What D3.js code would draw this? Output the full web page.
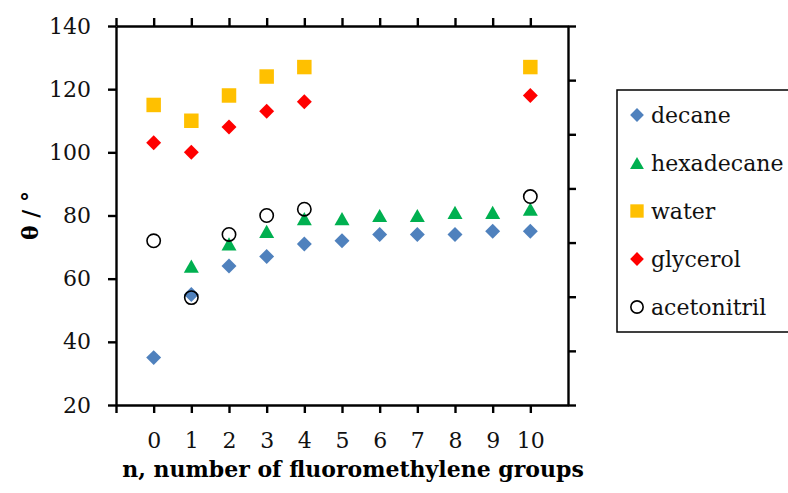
<!DOCTYPE html>
<html lang="en">
<head>
<meta charset="UTF-8">
<title>Contact angle vs n</title>
<script src="https://d3js.org/d3.v7.min.js"></script>
<style>
  body { margin: 0; background: #fff; }
  svg { display: block; }
</style>
</head>
<body>
<script>
// data
var nValues = [0, 1, 2, 3, 4, 5, 6, 7, 8, 9, 10];
var decane = [35, 55, 64, 67, 71, 72, 74, 74, 74, 75, 75];
var hexadecane = [null, 64, 71, 75, 79, 79, 80, 80, 81, 81, 82];
var water = [115, 110, 118, 124, 127, null, null, null, null, null, 127];
var glycerol = [103, 100, 108, 113, 116, null, null, null, null, null, 118];
var acetonitril = [72, 54, 74, 80, 82, null, null, null, null, null, 86];
var yTicks = [20, 40, 60, 80, 100, 120, 140];
var seriesNames = ["decane", "hexadecane", "water", "glycerol", "acetonitril"];

var width = 788, height = 493;
var margin = {top: 26, right: 220, bottom: 88, left: 116};
var font = "'DejaVu Serif', serif";

var series = [
  {name: seriesNames[0], values: decane, shape: "diamond", fill: "#4F81BD", stroke: "none"},
  {name: seriesNames[1], values: hexadecane, shape: "triangle", fill: "#00B050", stroke: "none"},
  {name: seriesNames[2], values: water, shape: "square", fill: "#FFC000", stroke: "none"},
  {name: seriesNames[3], values: glycerol, shape: "diamond", fill: "#FF0000", stroke: "none"},
  {name: seriesNames[4], values: acetonitril, shape: "circle", fill: "none", stroke: "#000"}
];

const svg = d3.select("body").append("svg")
    .attr("width", width)
    .attr("height", height)
    .style("font-family", font);

const x = d3.scaleLinear().domain([-1, 11]).range([margin.left, width - margin.right]);
const y = d3.scaleLinear().domain([20, 140]).range([height - margin.bottom, margin.top]);
// secondary (unlabelled) axis on the right has 7 divisions
const y2 = d3.scaleLinear().domain([0, 7]).range([height - margin.bottom, margin.top]);

const xTickVals = d3.range(-1, 11);

function styleAxis(g) {
  g.select(".domain").attr("stroke", "#000").attr("stroke-width", 2.4);
  g.selectAll(".tick line").attr("stroke", "#000").attr("stroke-width", 2.4);
  g.selectAll(".tick text").attr("fill", "#111").style("font-size", "22px").style("font-family", font);
}

// bottom axis
svg.append("g")
    .attr("transform", `translate(0,${y(20)})`)
    .call(d3.axisBottom(x).tickValues(xTickVals).tickFormat(d => d < 0 ? "" : d)
      .tickSize(8).tickSizeOuter(0).tickPadding(19))
    .call(styleAxis);

// top axis
svg.append("g")
    .attr("transform", `translate(0,${y(140)})`)
    .call(d3.axisTop(x).tickValues(xTickVals).tickFormat("").tickSize(8).tickSizeOuter(0))
    .call(styleAxis);

// left axis
svg.append("g")
    .attr("transform", `translate(${x(-1)},0)`)
    .call(d3.axisLeft(y).tickValues(yTicks).tickSize(8).tickSizeOuter(0).tickPadding(17))
    .call(styleAxis);

// right axis
svg.append("g")
    .attr("transform", `translate(${x(11)},0)`)
    .call(d3.axisRight(y2).ticks(7).tickFormat("").tickSize(8).tickSizeOuter(0))
    .call(styleAxis);

// triangle centred on its bounding box, like Excel markers
function trianglePath(w) {
  const h = w * 0.88;
  return `M0,${-h / 2}L${w / 2},${h / 2}L${-w / 2},${h / 2}Z`;
}

function symbolPath(shape, k) {
  k = k || 1;
  if (shape === "diamond") return d3.symbol(d3.symbolSquare, 112 * k)();
  if (shape === "triangle") return trianglePath(15 * Math.sqrt(k));
  if (shape === "square") return d3.symbol(d3.symbolSquare, 210 * k)();
  return d3.symbol(d3.symbolCircle, 140 * k)();
}

function drawMarker(g, s, k) {
  g.append("path")
    .attr("d", symbolPath(s.shape, k))
    .attr("transform", s.shape === "diamond" ? "rotate(45)" : null)
    .attr("fill", s.fill)
    .attr("stroke", s.stroke)
    .attr("stroke-width", s.shape === "circle" ? 1.6 : 0);
}

// points
const gPts = svg.append("g");
series.forEach(s => {
  s.values.forEach((v, i) => {
    if (v == null) return;
    const g = gPts.append("g").attr("transform", `translate(${x(nValues[i])},${y(v)})`);
    drawMarker(g, s, 1);
  });
});

// legend
const legend = svg.append("g").attr("transform", "translate(617,90)");
legend.append("rect")
    .attr("width", 200).attr("height", 242)
    .attr("fill", "#fff").attr("stroke", "#000").attr("stroke-width", 1.5);
series.forEach((s, i) => {
  const row = legend.append("g").attr("transform", `translate(20,${25 + i * 48})`);
  drawMarker(row, s, 0.85);
  row.append("text")
      .attr("x", 14).attr("dy", "0.35em")
      .style("font-size", "22px").attr("fill", "#111")
      .text(s.name);
});

// axis titles
svg.append("text")
    .attr("x", 353).attr("y", 477)
    .attr("text-anchor", "middle")
    .style("font-size", "22px").style("font-weight", "bold")
    .text("n, number of fluoromethylene groups");

svg.append("text")
    .attr("transform", `translate(38,${(y(20) + y(140)) / 2}) rotate(-90)`)
    .attr("text-anchor", "middle")
    .style("font-size", "22px").style("font-weight", "bold")
    .text("θ / °");
</script>
</body>
</html>
